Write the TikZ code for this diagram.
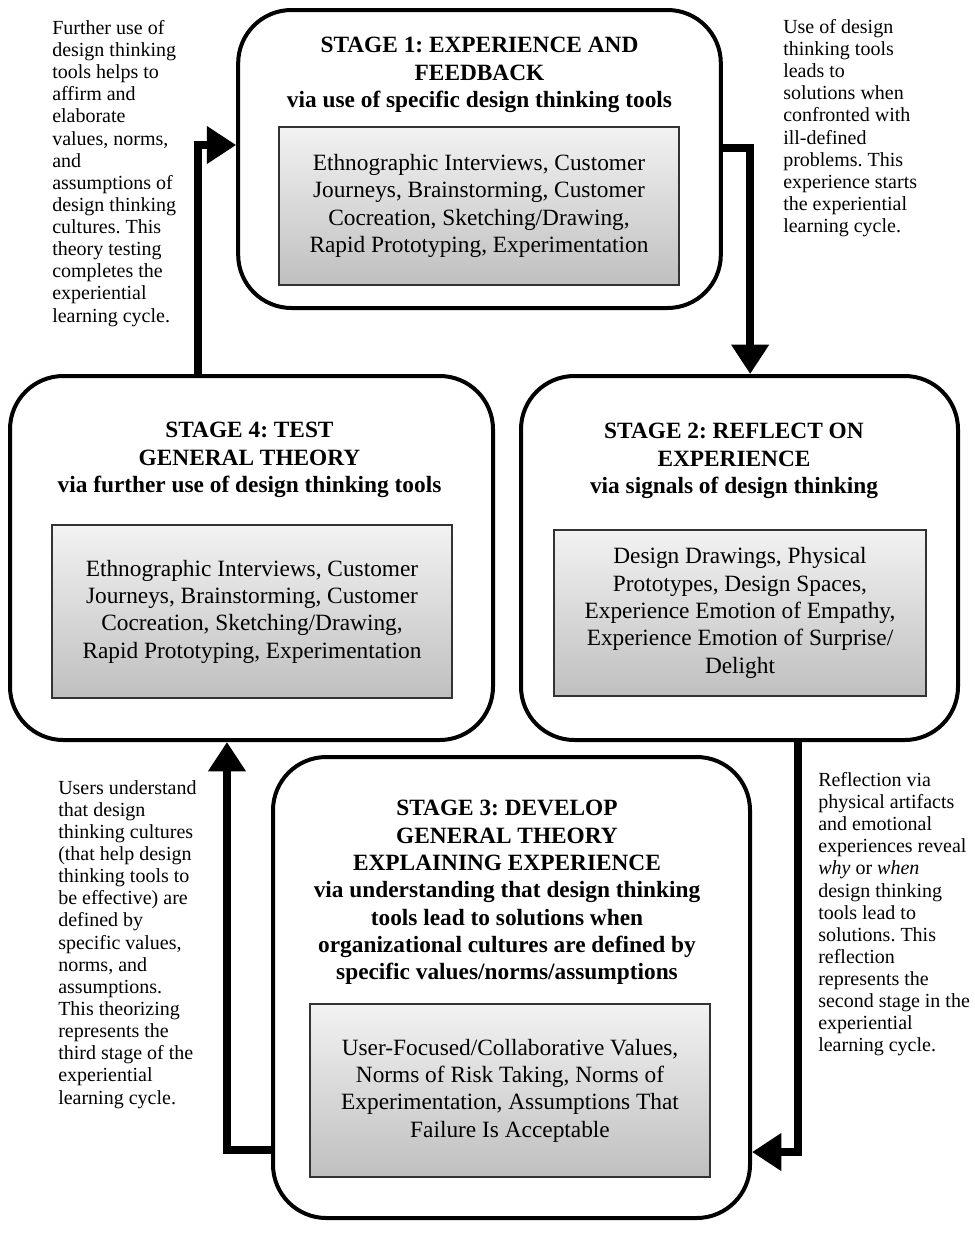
\documentclass[tikz,border=0pt]{standalone}
\usepackage{fontspec}
\setmainfont{Liberation Serif}
\usetikzlibrary{arrows.meta}
\frenchspacing

\tikzset{
	stagebox/.style={draw, line width=3pt, rounded corners=40pt, inner sep=0pt},
	toolbox/.style={draw=black!80, line width=0.9pt, top color=gray!10, bottom color=gray!50,
		align=center, inner sep=0pt, font=\fontsize{17.5}{20.5}\selectfont,
		execute at begin node={\rule{0pt}{16.5pt}}},
	stagetitle/.style={align=center, inner sep=0pt, anchor=north, font=\fontsize{17.5}{20.5}\selectfont\bfseries},
	sidenote/.style={align=left, inner sep=0pt, anchor=north west, font=\fontsize{15}{16.6}\selectfont},
	cyclearrow/.style={line width=6pt, -{Triangle[length=22pt,width=27pt]}}
}

\begin{document}
\begin{tikzpicture}[x=0.75pt,y=-0.75pt]
	\useasboundingbox (0,0) rectangle (975,1236);
			\node[stagebox, minimum width=362pt, minimum height=223.5pt] (stage1) at (479.5,159) {};
			\node[stagebox, minimum width=327.75pt, minimum height=273pt] (stage2) at (739.5,558) {};
			\node[stagebox, minimum width=357.75pt, minimum height=345.75pt] (stage3) at (511.5,987.5) {};
			\node[stagebox, minimum width=362.25pt, minimum height=273pt] (stage4) at (251.5,558) {};
			\node[stagetitle] (title1) at (479.5,37) {STAGE 1: EXPERIENCE AND\\FEEDBACK\\via use of specific design thinking tools};
			\node[stagetitle] (title2) at (734,423) {STAGE 2: REFLECT ON\\EXPERIENCE\\via signals of design thinking};
			\node[stagetitle] (title3) at (507,800) {STAGE 3: DEVELOP\\GENERAL THEORY\\EXPLAINING EXPERIENCE\\via understanding that design thinking\\tools lead to solutions when\\organizational cultures are defined by\\specific values/norms/assumptions};
			\node[stagetitle] (title4) at (249.5,422) {STAGE 4: TEST\\GENERAL THEORY\\via further use of design thinking tools};
			\node[toolbox, minimum width=300pt, minimum height=118.5pt] (tools1) at (479,206) {Ethnographic Interviews, Customer\\Journeys, Brainstorming, Customer\\Cocreation, Sketching/Drawing,\\Rapid Prototyping, Experimentation};
			\node[toolbox, minimum width=279pt, minimum height=124.5pt] (tools2) at (740,613) {Design Drawings, Physical\\Prototypes, Design Spaces,\\Experience Emotion of Empathy,\\Experience Emotion of Surprise/\\Delight};
			\node[toolbox, minimum width=300pt, minimum height=129.75pt] (tools3) at (510,1090.5) {User-Focused/Collaborative Values,\\Norms of Risk Taking, Norms of\\Experimentation, Assumptions That\\Failure Is Acceptable};
			\node[toolbox, minimum width=300pt, minimum height=129.75pt] (tools4) at (252,611.5) {Ethnographic Interviews, Customer\\Journeys, Brainstorming, Customer\\Cocreation, Sketching/Drawing,\\Rapid Prototyping, Experimentation};
			\draw[cyclearrow] ([yshift=8pt]stage1.east) -| ([xshift=8pt]stage2.north);
			\draw[cyclearrow] ([xshift=44pt]stage2.south) |- ([yshift=-123.4pt]stage3.east);
			\draw[cyclearrow] ([yshift=-122pt]stage3.west) -| ([xshift=-18.4pt]stage4.south);
			\draw[cyclearrow] ([xshift=-40pt]stage4.north) |- ([yshift=10.5pt]stage1.west);
			\node[sidenote] (note41) at (52,20) {Further use of\\design thinking\\tools helps to\\affirm and\\elaborate\\values, norms,\\and\\assumptions of\\design thinking\\cultures. This\\theory testing\\completes the\\experiential\\learning cycle.};
			\node[sidenote] (note12) at (783,19) {Use of design\\thinking tools\\leads to\\solutions when\\confronted with\\ill-defined\\problems. This\\experience starts\\the experiential\\learning cycle.};
			\node[sidenote] (note23) at (818,772) {Reflection via\\physical artifacts\\and emotional\\experiences reveal\\\textit{why} or \textit{when}\\design thinking\\tools lead to\\solutions. This\\reflection\\represents the\\second stage in the\\experiential\\learning cycle.};
			\node[sidenote] (note34) at (58,780) {Users understand\\that design\\thinking cultures\\(that help design\\thinking tools to\\be effective) are\\defined by\\specific values,\\norms, and\\assumptions.\\This theorizing\\represents the\\third stage of the\\experiential\\learning cycle.};
	\end{tikzpicture}
\end{document}
